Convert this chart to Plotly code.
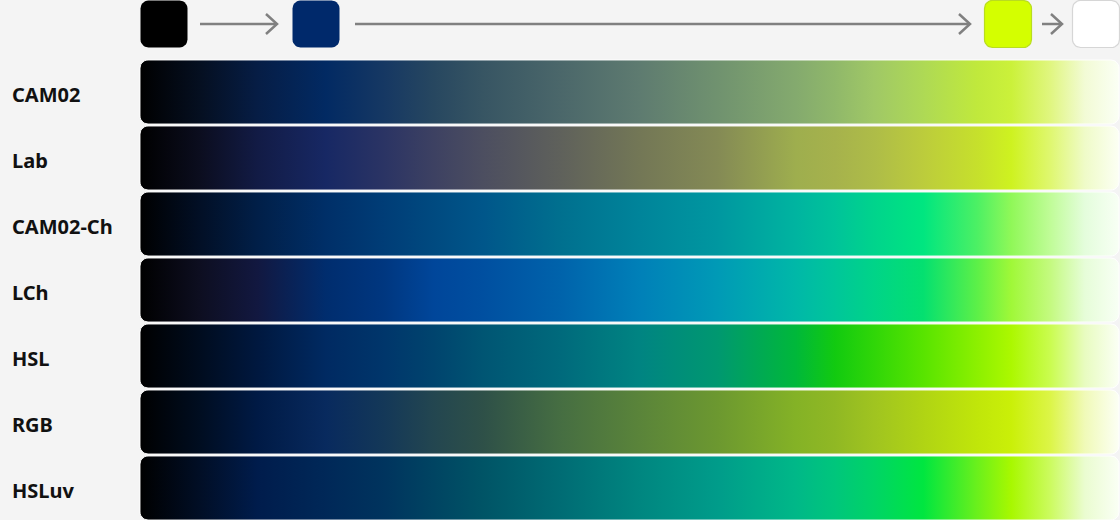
import numpy as np
import plotly.graph_objects as go

# gradient rows, top to bottom
rows = ["CAM02", "Lab", "CAM02-Ch", "LCh", "HSL", "RGB", "HSLuv"]

# shared stop positions along each bar (0 = left edge, 1 = right edge)
stop_pos = [0, 0.06, 0.12, 0.19, 0.25, 0.30, 0.35, 0.43, 0.51, 0.59,
            0.67, 0.71, 0.75, 0.80, 0.855, 0.89, 0.93, 0.965, 1.0]

cam02 = ["#000000", "#050f20", "#061d45", "#022a63", "#163863", "#274760", "#375563",
         "#4b676a", "#5e7b70", "#70926f", "#84aa6e", "#90b86a", "#a0c866", "#aed955",
         "#c0e93c", "#cbf13a", "#e0f680", "#f2fbd5", "#fbfff5"]
lab = ["#000000", "#0b0d1e", "#121b45", "#172864", "#2b3464", "#3d4162", "#4c4e60",
       "#5f615b", "#737756", "#848a55", "#9eae4e", "#a6b24c", "#aebc48", "#bccc3c",
       "#c6e02c", "#cef220", "#dff770", "#effbc8", "#fcfff4"]
cam02_ch = ["#000000", "#020f25", "#011f48", "#002f68", "#003d77", "#004a80", "#00568a",
            "#00708f", "#00849a", "#0097a0", "#00b4a0", "#00c39a", "#00d48c", "#00e680",
            "#4cf064", "#90f858", "#c0fc98", "#e4fddc", "#f8fff5"]
lch = ["#000000", "#0d0e20", "#121840", "#002d6e", "#003780", "#00469a", "#004fa0",
       "#0063ab", "#0080b8", "#009ab6", "#00b8a8", "#00c69a", "#00d488", "#04e070",
       "#5cf048", "#a0f838", "#c4fa80", "#e6fdd8", "#f8fff5"]
hsl = ["#000000", "#000c1e", "#00183f", "#002a62", "#00366b", "#00446e", "#005573",
       "#006a7c", "#008482", "#009870", "#00b83a", "#12ca10", "#30d608", "#58e400",
       "#8cf000", "#acf800", "#cafc50", "#e8fcc0", "#fbfff5"]
rgb = ["#000000", "#000d20", "#001a45", "#082a5e", "#143858", "#234650", "#2e5048",
       "#466e42", "#5a843a", "#6c9830", "#84b226", "#90b824", "#a0c420", "#b0d414",
       "#c0e60a", "#caf008", "#dcf548", "#f0fab8", "#fcfff5"]
hsluv = ["#000000", "#010e25", "#001c4c", "#002858", "#00345e", "#004462", "#005466",
         "#006c74", "#008680", "#009c8a", "#00b888", "#00c67c", "#00d466", "#00e640",
         "#6af01c", "#a8f800", "#ccfb60", "#eafcd0", "#fafff5"]
row_colors = [cam02, lab, cam02_ch, lch, hsl, rgb, hsluv]

# key colours shown along the top
swatch_colors = ["#000000", "#00296b", "#d4ff00", "#ffffff"]

BG = "#f4f4f4"
BAR_X0, BAR_X1 = 140, 1119
BAR_TOP, BAR_H, BAR_PITCH = 60, 64, 66
SW_X = [140, 292, 984, 1072]
SW_SIZE = 48
SW_LINE = ["rgba(0,0,0,0)", "rgba(0,0,0,0)", "#b9dc20", "#d6d6d6"]
ARROWS = [(200, 277), (355, 970), (1042, 1062)]
ARROW_Y = 24


def rounded_rect(x0, x1, y0, y1, r, n=8):
    # corners in screen coords (y grows downward)
    pts = []
    for cx, cy, a0 in [(x1 - r, y0 + r, -90), (x1 - r, y1 - r, 0),
                       (x0 + r, y1 - r, 90), (x0 + r, y0 + r, 180)]:
        t = np.radians(np.linspace(a0, a0 + 90, n))
        pts += list(zip(cx + r * np.cos(t), cy + r * np.sin(t)))
    pts.append(pts[0])
    xs, ys = zip(*pts)
    return list(xs), list(ys)


fig = go.Figure()

for i, name in enumerate(rows):
    y0 = BAR_TOP + i * BAR_PITCH
    xs, ys = rounded_rect(BAR_X0, BAR_X1, y0, y0 + BAR_H, 8)
    fig.add_trace(go.Scatter(
        x=xs, y=ys, mode="lines", fill="toself",
        fillgradient=dict(type="horizontal",
                          colorscale=[[p, c] for p, c in zip(stop_pos, row_colors[i])]),
        line=dict(color="rgba(255,255,255,0.9)", width=1),
        hoverinfo="skip", showlegend=False,
    ))
    fig.add_annotation(x=10, y=y0 + BAR_H / 2 + 2, text="<b>%s</b>" % name,
                       xanchor="left", yanchor="middle", showarrow=False,
                       font=dict(family="Noto Sans", size=20, color="#111111"))

for x0, col, lc in zip(SW_X, swatch_colors, SW_LINE):
    xs, ys = rounded_rect(x0 + 0.5, x0 + SW_SIZE - 0.5, 0.5, SW_SIZE - 0.5, 8)
    fig.add_trace(go.Scatter(x=xs, y=ys, mode="lines", fill="toself", fillcolor=col,
                             line=dict(color=lc, width=1.2),
                             hoverinfo="skip", showlegend=False))

for xa, xb in ARROWS:
    fig.add_trace(go.Scatter(x=[xa, xb], y=[ARROW_Y, ARROW_Y], mode="lines",
                             line=dict(color="#808080", width=2.5),
                             hoverinfo="skip", showlegend=False))
    fig.add_trace(go.Scatter(x=[xb - 11, xb, xb - 11], y=[ARROW_Y - 10, ARROW_Y, ARROW_Y + 10],
                             mode="lines", line=dict(color="#808080", width=2.5),
                             hoverinfo="skip", showlegend=False))

fig.update_layout(
    width=1120, height=520,
    margin=dict(l=0, r=0, t=0, b=0),
    paper_bgcolor=BG, plot_bgcolor=BG,
    xaxis=dict(range=[0, 1120], visible=False, fixedrange=True),
    yaxis=dict(range=[520, 0], visible=False, fixedrange=True),
)

fig.write_html("out.html", config={"displayModeBar": False},
               post_script="document.body.style.margin='0';"
                           "document.body.style.background='%s';" % BG)
